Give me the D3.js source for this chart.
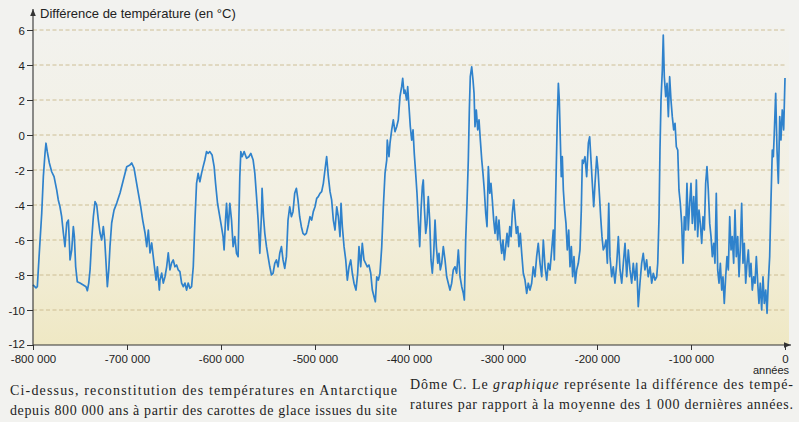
<!DOCTYPE html>
<html>
<head>
<meta charset="utf-8">
<script src="https://cdn.jsdelivr.net/npm/d3@7"></script>
<style>
body { margin: 0; background: #f2f2ef; }
svg { display: block; }
</style>
</head>
<body>
<script>
// temperature difference (°C) vs age in thousands of years (ka)
const record = [
  [-800,-8.57],[-796.8,-8.74],[-795.4,-8.67],[-793.3,-6.74],[-790.7,-4.46],[-789,-2.38],[-787.2,-1.03],[-786.2,-0.47],
  [-784.8,-0.95],[-782.6,-1.6],[-780.1,-2.1],[-777.6,-2.38],[-774.8,-3.14],[-773.1,-3.71],[-771.3,-4.1],[-769.5,-4.67],
  [-767.7,-5.6],[-766,-6.38],[-764.1,-5.03],[-762.4,-4.86],[-761.4,-6.0],[-760.6,-7.14],[-758.8,-6.57],[-757.1,-5.24],
  [-756,-5.81],[-754.6,-7.53],[-752.9,-8.38],[-750,-8.46],[-746.5,-8.57],[-743.6,-8.67],[-742.2,-8.9],[-740.7,-8.46],
  [-739.3,-7.71],[-737.6,-6.0],[-735.8,-4.67],[-734,-3.81],[-732.2,-4.0],[-730.5,-4.86],[-728.7,-5.6],[-726.9,-6.0],
  [-725.2,-5.24],[-723.7,-6.0],[-722.3,-7.31],[-720.9,-8.67],[-719.4,-7.71],[-718.1,-6.38],[-716.3,-5.03],[-713.8,-4.29],
  [-710.9,-3.89],[-707.4,-3.31],[-703.9,-2.57],[-700.3,-1.81],[-696.8,-1.71],[-695,-1.6],[-692.5,-1.89],[-690.4,-2.57],
  [-688,-3.31],[-685.4,-4.1],[-683.3,-4.86],[-680.8,-5.6],[-679,-6.38],[-677.3,-5.43],[-675.5,-6.74],[-673.7,-6.17],
  [-671.3,-7.31],[-669.1,-8.29],[-667.7,-7.53],[-665.6,-8.86],
  [-664.9,-8.29],[-663.1,-7.89],[-661.4,-8.46],[-659.6,-8.1],[-657.8,-7.53],[-656.1,-6.74],[-654.3,-7.71],[-652.5,-7.31],
  [-650.8,-7.14],[-649,-7.53],[-647.2,-7.43],[-645.5,-7.71],[-643.7,-7.81],[-641.9,-8.46],[-640.1,-8.67],[-638.4,-8.46],
  [-636.6,-8.86],[-634.9,-8.46],[-633.1,-8.76],[-631.3,-8.67],[-629.5,-7.53],[-627.7,-4.86],[-626,-2.76],[-624.3,-2.19],
  [-622.5,-2.67],[-620.7,-2.19],[-619,-1.81],[-617.2,-1.43],[-615.4,-0.95],[-613.7,-1.05],[-611.9,-0.95],[-609.5,-1.14],
  [-607.3,-1.81],[-605.8,-2.76],[-603.7,-3.9],[-601.3,-4.67],[-599.5,-5.24],[-597.8,-5.81],[-596.7,-6.57],[-595.2,-4.86],
  [-594.1,-3.9],[-592.4,-5.43],[-590.6,-3.9],[-588.8,-4.86],[-587.1,-6.38],[-585.3,-5.81],[-583.5,-6.76],[-581.8,-6.95],
  [-581,-4.86],[-580,-2.38],[-578.9,-0.95],[-577.5,-1.24],[-575.4,-0.95],[-572.8,-1.33],[-570.4,-1.24],[-568.3,-1.05],
  [-565.8,-1.43],[-564,-2.19],[-562.2,-3.52],[-560.5,-4.86],[-558.7,-6.76],[-556.9,-4.47],[-556.3,-3.05],[-554.8,-4.67],
  [-553.4,-5.62],[-551.6,-6.38],[-549.9,-6.95],[-548.1,-7.53],[-546.3,-8.0],[-544.6,-7.9],[-542.8,-7.33],[-541,-7.14],
  [-539.3,-7.53],[-537.5,-6.76],[-535.7,-6.38],
  [-534,-7.14],[-532.2,-7.62],[-530.4,-6.95],[-528.7,-4.86],[-526.9,-4.1],[-525.1,-4.67],[-523.4,-4.38],[-521.6,-3.33],
  [-519.8,-3.05],[-518.1,-3.71],[-516.3,-4.67],[-514.5,-5.24],[-512.8,-5.62],[-511,-5.71],[-509.2,-5.62],[-507.1,-5.14],
  [-505.3,-4.67],[-503.5,-4.86],[-501.8,-4.38],[-500,-4.1],[-498.2,-3.62],[-496.5,-3.52],[-494.7,-3.33],[-492.9,-3.24],
  [-491.1,-2.76],[-489.4,-2.0],[-487.6,-1.24],[-485.8,-2.38],[-484,-3.24],[-482.3,-3.71],[-480.5,-4.86],[-478.7,-5.43],
  [-476.9,-4.1],[-475.2,-4.67],[-473.4,-5.81],[-472.3,-3.9],[-470.9,-5.24],[-469.1,-6.38],[-467.3,-7.14],[-465.6,-8.29],
  [-463.8,-7.53],[-462,-7.14],[-460.3,-7.9],[-458.5,-8.47],[-456.4,-8.86],[-454.6,-7.9],[-453.2,-6.38],[-451.4,-7.53],
  [-449.7,-6.19],[-447.9,-7.14],[-446.1,-7.33],[-444.3,-7.53],[-442.6,-7.43],[-440.7,-7.9],[-439,-8.86],[-437.2,-9.24],
  [-435.8,-9.53],[-434.3,-8.1],[-432.6,-8.29],[-430.9,-7.9],[-429,-6.38],[-427.3,-4.1],[-425.5,-2.19],[-423.7,-1.43],
  [-423.1,-0.29],[-421.3,-1.24],[-420.2,-0.47],[-418.4,0.29],[-416.7,0.86],[-414.9,0.19],[-413.1,0.47],[-411.4,0.86],
  [-409.6,2.19],[-407.8,2.76],[-406.7,3.24],[-405.3,2.38],[-404.3,2.57],[-402.5,2.0],[-401.4,2.76],[-400,1.62],
  [-398.6,0.47],[-397.1,-0.29],[-395.7,0.29],[-394.4,-1.05],[-392.9,-2.19],[-391.5,-3.33],[-390.1,-4.86],[-388.6,-6.38],
  [-387.2,-4.29],[-385.8,-2.95],[-384.8,-2.57],[-383.7,-4.1],[-382.2,-5.62],[-380.9,-5.05],[-379.5,-3.52],[-378,-4.86],
  [-376.6,-7.14],[-375.2,-7.9],[-373.7,-6.76],[-372.3,-4.86],[-370.9,-6.38],[-369.4,-7.33],[-368.1,-6.76],[-366.7,-7.71],
  [-365.2,-7.33],[-363.5,-6.38],[-361.7,-7.14],[-359.9,-8.1],[-358.2,-8.47],[-356.4,-8.86],[-354.6,-8.47],[-352.9,-7.71],
  [-351.1,-7.53],[-349.3,-7.9],[-347.5,-6.57],[-345.7,-8.1],[-343.9,-8.67],[-342.2,-9.05],[-341.1,-9.43],[-339.7,-6.0],
  [-338.3,-3.9],[-336.9,-1.43],[-335.8,1.43],[-334.8,3.33],[-333.3,3.9],[-331.9,3.14],[-330.8,2.38],[-329.8,0.47],
  [-328.4,1.43],[-326.9,0.29],[-325.5,0.86],[-324.1,-0.29],[-322.6,-1.43],[-321.3,-2.19],[-319.9,-3.14],[-318.4,-4.47],
  [-317,-5.24],[-315.6,-1.81],[-314.1,-3.33],[-312.8,-2.76],[-311.4,-3.71],[-309.9,-4.86],[-308.5,-5.62],[-307.1,-4.67],
  [-305.6,-6.0],[-304.3,-4.86],[-302.9,-6.0],[-301.4,-6.76],[-300,-6.0],[-298.6,-7.14],[-297.1,-6.38],[-295.7,-5.62],
  [-294.3,-6.38],[-292.8,-5.24],[-291.4,-5.81],[-290.1,-4.47],[-288.6,-3.71],[-287.2,-4.67],[-285.8,-5.62],[-284.3,-5.24],
  [-283,-6.38],[-281.6,-5.62],[-280.1,-6.76],[-278.4,-7.9],[-276.6,-8.29],[-274.8,-9.05],[-273.1,-8.47],[-271.3,-8.86],
  [-269.5,-8.47],[-267.8,-7.53],[-266,-8.1],[-264.2,-6.95],[-262.5,-6.19],[-260.6,-7.33],[-258.8,-8.1],[-257.1,-6.0],
  [-255.3,-7.53],[-253.5,-8.29],[-251.8,-7.33],[-250,-7.71],[-248.2,-6.57],[-246.5,-5.43],[-245.4,-7.14],[-244.3,-4.29],
  [-243.3,-1.81],[-242.2,1.05],[-241.1,2.95],[-240.1,2.0],[-239,-0.29],[-238,-2.38],[-236.9,-1.24],[-235.8,-3.14],
  [-234.4,-4.29],[-233,-5.05],[-231.6,-6.57],[-230.1,-5.43],[-228.7,-7.53],[-227.3,-6.38],[-225.9,-8.1],[-224.5,-6.95],
  [-223.1,-8.47],[-221.6,-7.71],[-219.9,-7.33],[-218.1,-6.57],[-216.7,-4.29],[-215.6,-1.43],[-214.6,-1.62],[-212.8,-1.24],
  [-211,-2.38],[-209.2,-0.47],[-207.8,-0.1],[-206.4,-1.43],[-205,-2.76],[-203.5,-4.1],[-202.1,-2.76],[-200.3,-1.24],
  [-198.9,-2.0],[-197.5,-3.33],[-196.1,-4.67],[-194.7,-5.81],[-193.3,-6.57],[-191.8,-6.38],[-190.4,-6.0],[-189,-7.33],
  [-187.5,-3.9],[-186.2,-6.95],[-184.4,-8.1],[-182.7,-7.53],[-180.9,-8.47],[-179,-7.33],[-177.3,-5.81],[-175.5,-7.71],
  [-173.7,-8.47],[-172,-7.33],[-170.2,-6.19],[-168.4,-8.1],[-166.7,-6.57],[-164.9,-7.71],[-163.1,-8.47],[-161.4,-7.33],
  [-159.6,-8.29],[-157.8,-7.33],[-156.1,-9.81],[-154.3,-8.47],[-152.5,-7.33],[-150.8,-6.76],[-149,-7.71],[-147.2,-7.14],
  [-145.5,-8.1],[-143.6,-7.53],[-141.8,-8.47],[-140.1,-7.9],[-138.3,-8.29],[-136.5,-8.1],[-135.4,-7.33],[-134,-4.67],
  [-133,-0.86],[-131.9,2.0],[-130.5,3.71],[-129.5,5.71],[-128.4,3.33],[-126.9,2.19],[-125.5,2.95],[-124.1,1.05],
  [-122.7,3.33],[-121.3,2.0],[-119.9,1.05],[-118.4,0.29],[-117,0.67],[-115.6,-0.67],[-114.1,-0.86],[-112.8,-3.14],
  [-111.4,-3.9],[-109.9,-5.05],[-108.5,-7.33],[-107.1,-4.67],[-105.6,-5.43],[-104.3,-2.76],[-102.9,-5.43],[-101.4,-3.9],
  [-100,-2.76],[-98.6,-5.05],[-97.1,-3.52],[-95.7,-5.43],[-94.3,-2.57],[-92.9,-5.81],[-91.5,-4.29],[-90.1,-5.05],
  [-88.6,-6.19],[-87.2,-4.67],[-85.8,-5.43],[-84.4,-2.76],[-83,-1.81],[-81.6,-3.14],[-80.1,-5.05],[-78.7,-5.81],
  [-77.3,-6.95],[-75.8,-6.19],[-74.5,-7.33],[-73.1,-3.33],[-71.6,-7.71],[-70.2,-8.47],[-68.8,-7.33],[-67.3,-8.86],
  [-66,-8.1],[-64.6,-9.62],[-63.1,-8.1],[-61.7,-6.95],[-60.3,-7.71],[-58.8,-4.67],[-57.4,-6.57],[-56.1,-5.81],
  [-54.6,-7.33],[-53.2,-4.29],[-51.8,-6.95],[-50.3,-5.81],[-48.9,-8.1],[-47.6,-6.57],[-46.1,-3.9],[-44.7,-7.33],
  [-43.3,-6.19],[-41.8,-8.47],[-40.4,-7.33],[-39,-6.57],[-37.6,-8.1],[-36.2,-7.33],[-34.8,-8.86],[-33.3,-8.1],
  [-31.9,-8.47],[-30.5,-6.95],[-29,-8.47],[-27.7,-9.62],[-26.3,-8.47],[-24.8,-10.0],[-23.4,-8.1],[-22,-9.62],
  [-20.5,-8.86],[-19.1,-10.19],[-17.8,-8.47],[-16.3,-6.95],[-14.9,-3.71],[-13.5,-0.86],[-12.4,-1.24],[-11.4,0.1],
  [-9.9,2.38],[-8.5,-0.86],[-7.1,-2.76],[-5.6,1.05],[-4.3,-0.29],[-2.9,1.43],[-1.4,0.29],[0,3.26]
];

const yTicks = [-12, -10, -8, -6, -4, -2, 0, 2, 4, 6];
const xTicks = [-800000, -700000, -600000, -500000, -400000, -300000, -200000, -100000, 0];

const yTitle = 'Différence de température (en °C)';
const xTitle = 'années';
const captionLeft = [
  'Ci-dessus, reconstitution des températures en Antarctique',
  'depuis 800 000 ans à partir des carottes de glace issues du site'
];
const captionRight = [
  ['Dôme C. Le ', 'graphique', ' représente la différence des tempé-'],
  ['ratures par rapport à la moyenne des 1 000 dernières années.']
];

const width = 799, height = 422;
const plot = {left: 33, right: 785, top: 30, bottom: 345};

const svg = d3.select('body').append('svg')
    .attr('width', width)
    .attr('height', height);

const defs = svg.append('defs');
const grad = defs.append('linearGradient').attr('id', 'paper')
    .attr('x1', 0).attr('y1', 0).attr('x2', 0).attr('y2', 1);
grad.append('stop').attr('offset', '0%').attr('stop-color', '#f2f2ee');
grad.append('stop').attr('offset', '55%').attr('stop-color', '#f3f0e2');
grad.append('stop').attr('offset', '100%').attr('stop-color', '#efe8c4');

defs.append('marker').attr('id', 'arrow')
    .attr('viewBox', '0 0 10 10').attr('refX', 10).attr('refY', 5)
    .attr('markerWidth', 7).attr('markerHeight', 7)
    .attr('markerUnits', 'userSpaceOnUse')
    .attr('orient', 'auto')
  .append('path').attr('d', 'M0,1 L10,5 L0,9 Z').attr('fill', '#333');

const x = d3.scaleLinear().domain([-800000, 0]).range([plot.left, plot.right]);
const y = d3.scaleLinear().domain([-12, 6]).range([plot.bottom, plot.top]);

const fr = d3.formatLocale({decimal: ',', thousands: ' ', grouping: [3], currency: ['', ' €'], minus: '-'});
const fmt = fr.format(',');

svg.append('rect')
    .attr('x', plot.left).attr('y', plot.top - 6)
    .attr('width', plot.right - plot.left + 4)
    .attr('height', plot.bottom - plot.top + 6)
    .attr('fill', 'url(#paper)');

// dashed grid
svg.append('g').selectAll('line')
    .data(yTicks.filter(d => d > -12))
    .join('line')
    .attr('x1', plot.left).attr('x2', plot.right)
    .attr('y1', d => y(d)).attr('y2', d => y(d))
    .attr('stroke', '#c9b98c')
    .attr('stroke-width', 0.9)
    .attr('stroke-dasharray', '4,2.5');

// curve
const line = d3.line()
    .x(d => x(d[0] * 1000))
    .y(d => y(d[1]));

svg.append('path')
    .datum(record)
    .attr('d', line)
    .attr('fill', 'none')
    .attr('stroke', '#2f82cc')
    .attr('stroke-width', 1.7)
    .attr('stroke-linejoin', 'round');

// axes
const yaxis = d3.axisLeft(y).tickValues(yTicks).tickSize(6).tickSizeOuter(0).tickFormat(fmt);
const g_yaxis = svg.append('g').attr('transform', `translate(${plot.left},0)`).call(yaxis);
const xaxis = d3.axisBottom(x).tickValues(xTicks).tickSize(5).tickSizeOuter(0).tickFormat(fmt);
const g_xaxis = svg.append('g').attr('transform', `translate(0,${plot.bottom})`).call(xaxis);

[g_yaxis, g_xaxis].forEach(g => {
  g.select('.domain').remove();
  g.selectAll('.tick line').attr('stroke', '#333').attr('stroke-width', 1);
  g.selectAll('.tick text')
    .attr('fill', '#222')
    .style('font-family', '"Liberation Sans", Arial, sans-serif')
    .style('font-size', '11.5px');
});
g_yaxis.selectAll('.tick text').attr('x', -8).attr('dy', d => d === -12 ? '0.2em' : '0.36em');
g_xaxis.selectAll('.tick text').attr('y', 10).attr('dy', '0.71em');

svg.append('line')
    .attr('x1', plot.left).attr('x2', plot.left)
    .attr('y1', plot.bottom).attr('y2', 9)
    .attr('stroke', '#333').attr('stroke-width', 1.1)
    .attr('marker-end', 'url(#arrow)');
svg.append('line')
    .attr('x1', plot.left).attr('x2', 791)
    .attr('y1', plot.bottom).attr('y2', plot.bottom)
    .attr('stroke', '#333').attr('stroke-width', 1.1)
    .attr('marker-end', 'url(#arrow)');

svg.append('text')
    .attr('x', 40).attr('y', 18)
    .attr('fill', '#222')
    .style('font-family', '"Liberation Sans", Arial, sans-serif')
    .style('font-size', '13px')
    .text(yTitle);

svg.append('text')
    .attr('x', 789).attr('y', 374)
    .attr('text-anchor', 'end')
    .attr('fill', '#222')
    .style('font-family', '"Liberation Sans", Arial, sans-serif')
    .style('font-size', '11px')
    .text(xTitle);

// caption
const serif = '"Liberation Serif", "DejaVu Serif", serif';
svg.append('g').selectAll('text')
    .data(captionLeft)
    .join('text')
    .attr('x', 10)
    .attr('y', (d, i) => 395 + i * 19.5)
    .attr('textLength', 387)
    .attr('lengthAdjust', 'spacing')
    .attr('fill', '#1e1e1e')
    .style('font-family', serif)
    .style('font-size', '14px')
    .text(d => d);

const right = svg.append('g').selectAll('text')
    .data(captionRight)
    .join('text')
    .attr('x', 410)
    .attr('y', (d, i) => 389 + i * 20)
    .attr('textLength', 383)
    .attr('lengthAdjust', 'spacing')
    .attr('fill', '#1e1e1e')
    .style('font-family', serif)
    .style('font-size', '14px');
right.selectAll('tspan')
    .data(d => d)
    .join('tspan')
    .style('font-style', (d, i) => i === 1 ? 'italic' : 'normal')
    .text(d => d);
</script>
</body>
</html>
